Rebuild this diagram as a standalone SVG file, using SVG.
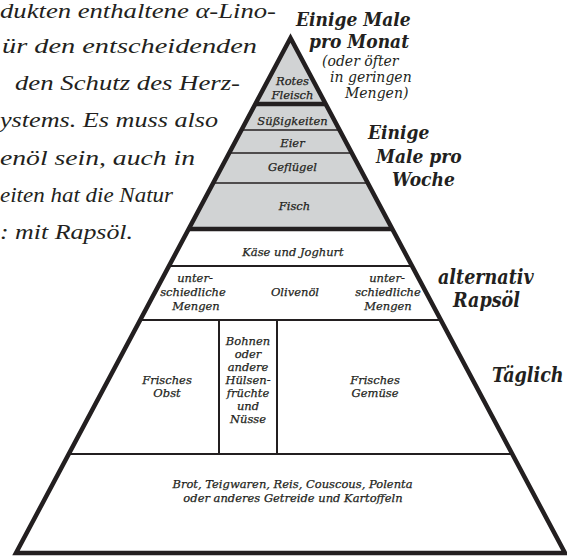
<svg xmlns="http://www.w3.org/2000/svg" width="567" height="557" viewBox="0 0 567 557">
<style>
.para{font-family:"Liberation Serif",serif;font-style:italic;font-size:21px;fill:#231f20}
.hd{font-family:"DejaVu Serif Condensed","DejaVu Serif",serif;font-style:italic;font-weight:bold;font-size:19px;fill:#231f20}
.hd2{font-family:"DejaVu Serif Condensed","DejaVu Serif",serif;font-style:italic;font-weight:bold;font-size:19.5px;fill:#231f20}
.sub{font-family:"DejaVu Serif",serif;font-style:italic;font-size:14px;fill:#231f20}
.lb{font-family:"DejaVu Serif",serif;font-style:italic;font-size:11.5px;fill:#231f20;stroke:#231f20;stroke-width:0.25;text-anchor:middle}
.thick{stroke:#231f20;stroke-width:4.5;fill:none}
.thin{stroke:#231f20;stroke-width:1.6;fill:none}
.mid{stroke:#231f20;stroke-width:2;fill:none}
</style>
<rect width="567" height="557" fill="#fff"/>
<g id="paragraph">
<text class="para" x="0" y="18" textLength="276" lengthAdjust="spacingAndGlyphs">dukten enthaltene α-Lino-</text>
<text class="para" x="2" y="53" textLength="255" lengthAdjust="spacingAndGlyphs">ür den entscheidenden</text>
<text class="para" x="15" y="90" textLength="225" lengthAdjust="spacingAndGlyphs">den Schutz des Herz-</text>
<text class="para" x="0" y="127" textLength="218" lengthAdjust="spacingAndGlyphs">ystems. Es muss also</text>
<text class="para" x="0" y="165" textLength="195" lengthAdjust="spacingAndGlyphs">enöl sein, auch in</text>
<text class="para" x="0" y="202" textLength="173" lengthAdjust="spacingAndGlyphs">eiten hat die Natur</text>
<text class="para" x="0" y="239" textLength="133" lengthAdjust="spacingAndGlyphs">: mit Rapsöl.</text>
</g>
<g id="connectors">
<polygon points="290.5,38 188.7,229 392.3,229" fill="#d1d3d4"/>
<line class="thick" x1="255" y1="104" x2="326" y2="104"/>
<line class="thin" x1="241.5" y1="130" x2="339.5" y2="130"/>
<line class="thin" x1="229" y1="153" x2="352" y2="153"/>
<line class="thin" x1="213" y1="183" x2="368" y2="183"/>
<line class="thick" x1="188.7" y1="229" x2="392.3" y2="229"/>
<line class="mid" x1="169" y1="266" x2="412" y2="266"/>
<line class="mid" x1="140" y1="320" x2="441" y2="320"/>
<line class="mid" x1="68.5" y1="454" x2="512.5" y2="454"/>
<line class="mid" x1="219" y1="320" x2="219" y2="454"/>
<line class="mid" x1="277" y1="320" x2="277" y2="454"/>
<polygon points="290.5,38 16,553 565,553" fill="none" stroke="#231f20" stroke-width="4.5" stroke-linejoin="miter" stroke-miterlimit="20"/>
</g>
<g id="rotes-fleisch">
<text class="lb" x="292.5" y="85">Rotes</text>
<text class="lb" x="292.5" y="99">Fleisch</text>
</g>
<g id="suessigkeiten"><text class="lb" x="292.5" y="125">Süßigkeiten</text></g>
<g id="eier"><text class="lb" x="292.5" y="147">Eier</text></g>
<g id="gefluegel"><text class="lb" x="292.5" y="171">Geflügel</text></g>
<g id="fisch"><text class="lb" x="294.5" y="210">Fisch</text></g>
<g id="kaese"><text class="lb" x="293" y="256">Käse und Joghurt</text></g>
<g id="oel">
<text class="lb" x="195" y="282">unter-</text>
<text class="lb" x="193" y="296">schiedliche</text>
<text class="lb" x="196" y="310">Mengen</text>
<text class="lb" x="295" y="296">Olivenöl</text>
<text class="lb" x="387" y="282">unter-</text>
<text class="lb" x="388" y="296">schiedliche</text>
<text class="lb" x="388" y="310">Mengen</text>
</g>
<g id="obst">
<text class="lb" x="167" y="384">Frisches</text>
<text class="lb" x="167" y="397">Obst</text>
</g>
<g id="huelsen">
<text class="lb" x="248" y="345">Bohnen</text>
<text class="lb" x="248" y="358">oder</text>
<text class="lb" x="248" y="371">andere</text>
<text class="lb" x="248" y="384">Hülsen-</text>
<text class="lb" x="248" y="397">früchte</text>
<text class="lb" x="248" y="410">und</text>
<text class="lb" x="248" y="423">Nüsse</text>
</g>
<g id="gemuese">
<text class="lb" x="375" y="384">Frisches</text>
<text class="lb" x="375" y="397">Gemüse</text>
</g>
<g id="getreide">
<text class="lb" x="292.5" y="488">Brot, Teigwaren, Reis, Couscous, Polenta</text>
<text class="lb" x="293" y="502">oder anderes Getreide und Kartoffeln</text>
</g>
<g id="monat">
<text class="hd" x="296" y="26">Einige Male</text>
<text class="hd" x="309" y="48">pro Monat</text>
<text class="sub" x="322" y="66">(oder öfter</text>
<text class="sub" x="330" y="82">in geringen</text>
<text class="sub" x="345" y="98">Mengen)</text>
</g>
<g id="woche">
<text class="hd" x="368" y="139">Einige</text>
<text class="hd" x="376" y="163">Male pro</text>
<text class="hd" x="392" y="186">Woche</text>
</g>
<g id="rapsoel">
<text class="hd2" x="438" y="284">alternativ</text>
<text class="hd2" x="453" y="307">Rapsöl</text>
</g>
<g id="taeglich"><text class="hd2" x="492" y="382">Täglich</text></g>
</svg>
